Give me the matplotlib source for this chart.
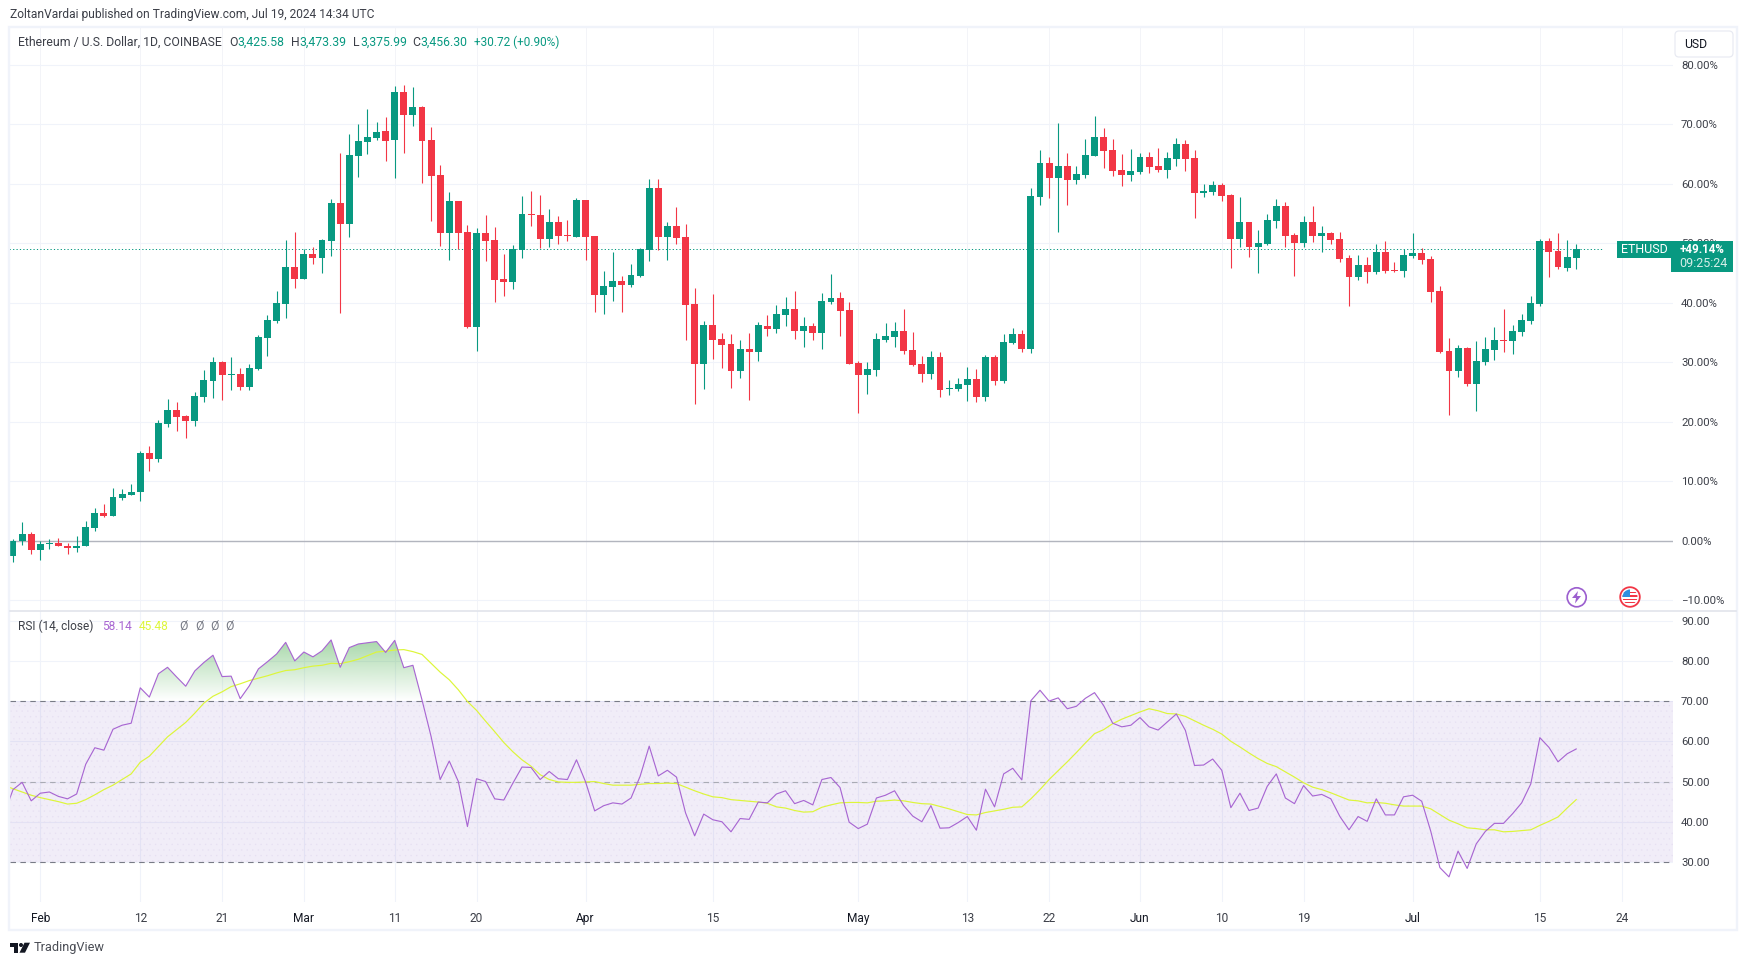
import numpy as np
import pandas as pd
import matplotlib
matplotlib.use("Agg")
import matplotlib.pyplot as plt
import matplotlib.dates as mdates
from matplotlib.patches import Rectangle, FancyBboxPatch, Circle, Polygon
from matplotlib.path import Path
from matplotlib.ticker import FuncFormatter

plt.rcParams['font.family'] = ['Roboto', 'DejaVu Sans']
plt.rcParams['hatch.linewidth'] = 0.2

# percent change candles, one per day from 2024-01-29
opens = [-2.58, -0.06, 1.23, -1.57, -0.56, -0.28, -0.78, -1.23, -0.78, 2.24,
         4.76, 4.26, 7.28, 7.79, 8.18, 14.85, 13.84, 19.72, 22.07, 21.06,
         20.22, 24.26, 26.95, 30.14, 27.95, 28.12, 25.94, 28.96, 34.17, 37.03,
         39.83, 46.05, 44.03, 48.23, 47.56, 50.42, 56.80, 53.28, 64.70, 67.06,
         67.73, 68.90, 67.39, 75.46, 71.59, 72.94, 67.39, 61.51, 51.76, 57.14,
         51.93, 35.97, 51.76, 50.59, 44.03, 43.53, 48.91, 54.96, 54.79, 50.75,
         53.61, 51.43, 51.09, 57.31, 51.26, 41.34, 42.69, 43.70, 43.02, 44.54,
         48.91, 59.33, 51.09, 52.94, 51.09, 39.83, 29.75, 36.30, 33.95, 33.11,
         28.57, 32.27, 31.76, 36.13, 35.63, 37.98, 38.99, 35.29, 36.13, 34.96,
         40.17, 40.84, 38.82, 29.91, 27.90, 28.74, 33.78, 34.28, 35.29, 32.10,
         29.75, 28.07, 30.92, 25.55, 25.55, 26.22, 27.23, 24.20, 30.92, 26.89,
         33.28, 34.79, 32.27, 57.81, 63.53, 61.01, 63.02, 60.67, 61.51, 64.70,
         67.90, 65.71, 62.35, 61.51, 62.01, 64.54, 63.02, 62.35, 64.20, 66.72,
         64.37, 58.48, 58.65, 59.83, 58.15, 50.75, 53.61, 49.41, 49.91, 53.78,
         56.30, 51.43, 50.08, 53.61, 51.26, 51.76, 50.75, 47.56, 44.37, 46.38,
         45.21, 48.57, 45.54, 45.38, 47.90, 48.40, 47.39, 42.02, 31.93, 28.57,
         32.44, 26.39, 30.08, 32.10, 33.78, 33.61, 35.12, 36.97, 39.83, 50.42,
         48.74, 45.88, 47.56]
closes = [0.06, 1.23, -1.57, -0.45, -0.28, -0.90, -1.23, -0.78, 2.41, 4.76,
          4.26, 7.45, 7.95, 8.29, 14.85, 13.84, 19.89, 22.07, 20.90, 20.22,
          24.42, 27.11, 30.14, 27.95, 28.12, 25.94, 29.13, 34.34, 37.20, 40.05,
          46.05, 44.03, 48.23, 47.56, 50.59, 56.80, 53.28, 64.87, 67.22, 67.89,
          68.74, 67.22, 75.46, 71.59, 72.94, 67.22, 61.34, 51.76, 57.14, 51.76,
          36.02, 51.76, 50.42, 43.86, 43.53, 49.07, 54.96, 54.79, 50.75, 53.61,
          51.26, 51.26, 57.31, 51.09, 41.34, 42.86, 43.70, 43.02, 44.70, 49.07,
          59.33, 51.09, 52.94, 50.92, 39.66, 29.75, 36.30, 33.78, 32.94, 28.57,
          32.27, 31.76, 36.30, 35.63, 38.15, 38.99, 35.29, 36.13, 34.96, 40.33,
          40.84, 38.65, 29.75, 27.90, 28.91, 33.95, 34.45, 35.29, 31.93, 29.58,
          28.07, 30.92, 25.38, 25.71, 26.39, 27.23, 24.20, 30.92, 26.89, 33.44,
          34.79, 32.27, 57.98, 63.53, 61.01, 63.02, 60.67, 61.68, 64.87, 67.90,
          65.54, 62.18, 61.51, 62.18, 64.54, 62.85, 62.35, 64.37, 66.72, 64.20,
          58.48, 58.82, 59.83, 57.98, 50.75, 53.61, 49.41, 50.08, 53.95, 56.30,
          51.26, 50.08, 53.61, 51.26, 51.76, 50.59, 47.39, 44.37, 46.38, 45.21,
          48.57, 45.38, 45.38, 48.07, 48.40, 47.23, 41.85, 31.76, 28.57, 32.44,
          26.39, 30.25, 32.27, 33.78, 33.61, 35.29, 37.14, 40.00, 50.42, 48.57,
          46.05, 47.73, 49.07]
highs = [0.39, 3.25, 1.57, -0.06, 0.39, 0.56, -0.28, 0.90, 3.42, 5.60,
         6.27, 8.96, 8.80, 9.64, 15.18, 16.02, 20.39, 23.92, 23.42, 21.23,
         25.10, 28.79, 30.98, 30.31, 30.98, 29.13, 29.80, 34.68, 38.04, 42.07,
         50.59, 51.93, 49.07, 49.41, 50.75, 57.48, 65.21, 68.40, 70.08, 72.60,
         70.42, 71.26, 76.47, 76.64, 76.30, 73.11, 69.58, 63.19, 58.65, 57.14,
         53.11, 52.60, 54.79, 52.77, 48.23, 49.75, 57.98, 58.82, 58.15, 55.80,
         54.62, 53.95, 57.65, 57.31, 51.26, 45.38, 48.57, 44.54, 46.55, 49.24,
         60.84, 60.84, 53.61, 56.13, 53.28, 42.52, 36.97, 41.51, 34.96, 34.79,
         33.78, 34.96, 36.81, 37.98, 39.66, 41.01, 42.02, 37.65, 36.64, 41.68,
         44.87, 41.85, 40.17, 30.25, 30.08, 34.96, 36.64, 36.81, 38.99, 35.12,
         31.09, 31.93, 31.76, 27.06, 27.39, 29.24, 28.91, 31.26, 31.26, 34.79,
         35.80, 35.46, 59.33, 65.71, 64.54, 70.25, 65.21, 63.02, 67.56, 71.43,
         69.41, 67.56, 65.04, 65.88, 65.21, 65.38, 66.05, 65.38, 67.73, 67.39,
         65.71, 60.00, 60.50, 60.17, 58.32, 57.81, 53.61, 52.27, 54.96, 57.48,
         56.97, 51.76, 54.62, 56.30, 52.94, 51.93, 51.93, 48.07, 48.07, 47.73,
         49.91, 50.42, 46.89, 49.07, 51.76, 49.24, 47.90, 42.86, 34.12, 32.94,
         32.60, 33.61, 34.28, 35.96, 38.99, 36.30, 38.15, 41.17, 50.75, 50.92,
         51.76, 50.59, 49.91]
lows = [-3.47, -0.73, -2.24, -3.25, -1.40, -0.90, -2.13, -1.90, -0.78, 1.62,
        4.09, 4.26, 6.83, 7.79, 6.78, 11.82, 13.22, 19.21, 18.54, 17.37,
        19.38, 23.42, 24.09, 23.75, 25.43, 25.43, 25.43, 28.79, 31.15, 36.69,
        37.48, 42.52, 44.03, 46.55, 45.04, 47.90, 38.32, 51.09, 61.17, 65.04,
        67.39, 63.86, 61.01, 65.21, 69.74, 60.17, 53.78, 49.58, 47.23, 49.07,
        35.80, 31.93, 47.06, 40.17, 41.17, 42.35, 47.56, 52.94, 49.24, 49.41,
        49.91, 50.42, 51.09, 47.23, 38.49, 38.15, 40.33, 38.49, 42.69, 44.37,
        47.06, 48.91, 47.23, 49.91, 33.78, 23.02, 25.55, 30.59, 29.07, 25.71,
        27.39, 23.70, 30.25, 34.45, 34.96, 36.13, 33.95, 32.60, 33.78, 32.27,
        39.83, 34.45, 29.75, 21.51, 24.70, 27.73, 33.44, 32.60, 31.43, 29.41,
        26.72, 27.23, 24.20, 24.54, 25.21, 23.53, 23.36, 23.53, 26.22, 26.55,
        33.11, 31.76, 31.60, 56.47, 57.65, 51.93, 56.47, 60.00, 61.01, 64.70,
        62.69, 61.34, 59.66, 60.50, 61.68, 61.85, 62.01, 61.01, 63.02, 62.18,
        54.28, 57.81, 58.15, 57.14, 45.88, 49.41, 47.73, 45.04, 49.75, 52.60,
        49.41, 44.54, 49.41, 50.25, 48.57, 49.91, 46.89, 39.49, 43.86, 43.36,
        44.87, 45.04, 45.21, 44.37, 47.56, 46.55, 40.17, 31.60, 21.18, 27.56,
        26.05, 21.85, 29.58, 30.42, 31.76, 31.43, 34.45, 36.47, 39.49, 44.37,
        45.71, 45.38, 45.71]

# RSI and its moving average, one per day from 2024-01-28
rsi_vals = [41.8, 48.0, 49.8, 45.2, 47.1, 47.4, 46.3, 45.7, 46.9, 54.3,
            58.4, 57.8, 63.0, 64.0, 64.5, 73.3, 71.0, 76.8, 78.4, 76.0,
            73.7, 77.5, 79.6, 81.4, 76.1, 76.2, 70.6, 73.8, 78.0, 79.8,
            81.7, 84.6, 80.0, 82.2, 81.0, 82.5, 85.2, 78.4, 83.3, 84.2,
            84.5, 84.8, 82.1, 85.1, 78.3, 78.9, 70.3, 61.2, 50.5, 55.1,
            50.0, 38.8, 50.7, 50.0, 45.7, 45.4, 49.6, 53.6, 53.5, 50.5,
            52.5, 50.7, 50.5, 55.4, 49.9, 42.7, 44.0, 44.7, 44.4, 45.9,
            51.3, 58.8, 51.4, 52.8, 51.1, 42.2, 36.5, 41.9, 40.5, 40.0,
            37.5, 40.8, 40.6, 44.9, 44.7, 46.9, 47.7, 44.5, 45.3, 44.2,
            50.5, 51.0, 48.5, 39.9, 38.3, 39.4, 45.9, 46.6, 47.7, 44.0,
            41.4, 40.0, 44.0, 38.4, 38.5, 39.8, 41.3, 37.9, 48.1, 43.7,
            51.9, 53.3, 50.4, 70.1, 72.7, 70.0, 70.8, 68.1, 68.7, 70.7,
            72.1, 68.9, 64.5, 63.6, 64.0, 65.9, 63.6, 62.8, 64.8, 66.8,
            62.7, 54.0, 54.1, 55.6, 52.8, 43.5, 47.1, 42.8, 43.4, 48.8,
            51.9, 45.9, 44.5, 49.0, 46.4, 46.8, 45.7, 41.3, 38.0, 41.3,
            40.1, 45.7, 41.7, 41.7, 46.2, 46.6, 45.1, 37.6, 28.6, 26.3,
            32.7, 28.4, 34.5, 37.6, 39.6, 39.6, 42.0, 44.7, 49.4, 60.9,
            58.5, 54.9, 56.9, 58.1]
rsi_ma = [49.1, 48.2, 47.4, 46.6, 46.0, 45.5, 45.0, 44.4, 44.6, 45.5,
          46.7, 48.0, 49.1, 50.5, 51.9, 54.8, 56.3, 58.7, 61.1, 62.9,
          64.7, 67.0, 69.5, 71.2, 72.3, 73.6, 74.3, 75.1, 75.7, 76.3,
          77.0, 77.6, 77.8, 78.3, 78.7, 78.9, 79.4, 79.3, 79.8, 80.4,
          81.3, 82.2, 82.4, 82.7, 82.8, 82.3, 81.6, 79.4, 77.2, 75.3,
          72.8, 69.9, 67.7, 65.0, 62.4, 59.7, 57.4, 55.4, 53.8, 51.7,
          50.5, 49.9, 49.8, 49.8, 49.9, 50.0, 49.5, 49.1, 49.1, 49.1,
          49.3, 49.5, 49.5, 49.6, 49.5, 48.6, 47.7, 46.9, 46.2, 46.0,
          45.5, 45.3, 45.1, 44.9, 44.6, 43.7, 43.4, 42.8, 42.4, 42.5,
          43.6, 44.2, 44.7, 44.8, 44.8, 44.7, 45.1, 45.2, 45.4, 45.2,
          44.8, 44.5, 44.4, 43.8, 43.2, 42.5, 41.8, 41.7, 42.3, 42.7,
          43.1, 43.6, 43.7, 45.7, 48.0, 50.5, 52.7, 54.9, 57.2, 59.6,
          61.9, 62.9, 64.4, 65.5, 66.4, 67.3, 68.1, 67.6, 66.9, 66.8,
          66.2, 65.1, 64.0, 63.0, 61.8, 60.0, 58.6, 57.1, 55.7, 54.5,
          53.7, 52.4, 51.1, 49.7, 48.6, 48.0, 47.2, 46.3, 45.4, 45.2,
          44.7, 44.8, 44.6, 44.2, 43.9, 43.9, 43.9, 43.2, 41.8, 40.4,
          39.5, 38.5, 38.3, 38.0, 38.0, 37.5, 37.6, 37.8, 38.0, 39.1,
          40.1, 41.2, 43.4, 45.5]

tick_dates = ['2024-02-01', '2024-02-12', '2024-02-21', '2024-03-01', '2024-03-11', '2024-03-20',
              '2024-04-01', '2024-04-15', '2024-05-01', '2024-05-13', '2024-05-22', '2024-06-01',
              '2024-06-10', '2024-06-19', '2024-07-01', '2024-07-15', '2024-07-24']
tick_labels = ['Feb', '12', '21', 'Mar', '11', '20', 'Apr', '15', 'May', '13', '22', 'Jun',
               '10', '19', 'Jul', '15', '24']
price_ticks = [80, 70, 60, 50, 40, 30, 20, 10, 0, -10]
rsi_ticks = [90, 80, 70, 60, 50, 40, 30]
last_pct = 49.14

GREEN = '#089981'
RED = '#F23645'
GRID = '#F0F3FA'
PURPLE = '#A866D2'
YELLOW = '#DDF63A'
TEXT = '#3C3F48'
W, H = 1747, 965
px = 0.72  # one pixel in points at dpi 100

fig = plt.figure(figsize=(W / 100, H / 100), dpi=100, facecolor='white')


def pane(top, bottom, left=10.3, right=1673):
    return fig.add_axes([left / W, 1 - bottom / H, (right - left) / W, (bottom - top) / H])


ax = pane(26, 610)
ax2 = pane(611, 902)

dates = mdates.date2num(pd.date_range('2024-01-29', periods=len(opens)))
rsi_dates = mdates.date2num(pd.date_range('2024-01-28', periods=len(rsi_vals)))
base = mdates.date2num(pd.Timestamp('2024-02-01'))
ticks = mdates.date2num(pd.to_datetime(tick_dates))
xlim = (base - 3.30, base + 179.65)

opens = np.array(opens)
closes = np.array(closes)
highs = np.array(highs)
lows = np.array(lows)
rsi_vals = np.array(rsi_vals)
rsi_ma = np.array(rsi_ma)

for a in (ax, ax2):
    a.set_xlim(*xlim)
    a.set_xticks(ticks)
    a.grid(True, color=GRID, lw=1.1 * px, zorder=0)
    a.set_axisbelow(True)
    a.yaxis.tick_right()
    a.tick_params(length=0, labelsize=8.2, labelcolor=TEXT, pad=5.8)
    for s in a.spines.values():
        s.set_visible(False)
ax.tick_params(labelbottom=False)
ax.xaxis.grid(True, color='#F3F4F8', lw=px)

# main pane
ax.set_ylim(-11.6, 86.55)
ax.set_yticks(price_ticks)
ax.yaxis.set_major_formatter(FuncFormatter(lambda v, p: f'{v:.2f}%'.replace('-', '\u2212')))
ax.axhline(0, color='#B2B5BE', lw=1.4 * px, zorder=1)
ax.plot([dates[0] - 4, base + 172], [last_pct, last_pct], color=GREEN, lw=px, ls=(0, (1.2, 2.2)), zorder=1)

colors = [GREEN if c >= o else RED for o, c in zip(opens, closes)]
ax.vlines(dates, lows, highs, colors=colors, lw=1.1 * px, zorder=3)
ax.bar(dates, np.abs(closes - opens), bottom=np.minimum(opens, closes), width=0.76, color=colors,
       linewidth=0, zorder=4)

# rsi pane
ax2.set_ylim(20.05, 92.4)
ax2.set_yticks(rsi_ticks)
ax2.yaxis.set_major_formatter(FuncFormatter(lambda v, p: f'{v:.2f}'))
ax2.set_xticklabels(tick_labels)
ax2.tick_params(axis='x', pad=7.5, labelsize=8.6)
for lab, txt in zip(ax2.get_xticklabels(), tick_labels):
    lab.set_color('#131722' if txt.isalpha() else TEXT)

ax2.axhspan(30, 70, facecolor='#7E57C2', alpha=0.105, lw=0, zorder=1)
ax2.axhspan(30, 70, facecolor='none', edgecolor='#E6DFF2', hatch='...', lw=0, zorder=1)
ax2.axhline(70, color='#787B86', lw=1.1 * px, ls=(0, (5, 4)), zorder=2)
ax2.axhline(50, color='#A9ABB4', lw=1.1 * px, ls=(0, (5, 4)), zorder=2)
ax2.axhline(30, color='#787B86', lw=1.1 * px, ls=(0, (5, 4)), zorder=2)

# green fade above 70, drawn as an image clipped to the area under the line
over = ax2.fill_between(rsi_dates, 70, rsi_vals, where=rsi_vals > 70, interpolate=True, facecolor='none', lw=0)
grad = np.zeros((256, 1, 4))
grad[:, :, 0] = 76 / 255
grad[:, :, 1] = 175 / 255
grad[:, :, 2] = 80 / 255
grad[:, :, 3] = np.linspace(0.5, 0, 256).reshape(-1, 1)
im = ax2.imshow(grad, extent=[rsi_dates[0], rsi_dates[-1], 70, 85.5], aspect='auto', zorder=2, origin='upper')
im.set_clip_path(Path.make_compound_path(*over.get_paths()), ax2.transData)
ax2.set_xlim(*xlim)
ax2.set_ylim(20.05, 92.4)

ax2.plot(rsi_dates, rsi_ma, color=YELLOW, lw=1.2 * px, zorder=3)
ax2.plot(rsi_dates, rsi_vals, color=PURPLE, lw=1.15 * px, zorder=4)

# overlay in pixel coordinates for frame, header and labels
ov = fig.add_axes([0, 0, 1, 1], facecolor='none', zorder=10)
ov.set_xlim(0, W)
ov.set_ylim(H, 0)
ov.axis('off')

ov.add_patch(Rectangle((9.5, 26.5), 1727.5, 903.5, fill=False, ec='#F0F3FA', lw=2.4 * px))
ov.plot([10, 1736], [610.5, 610.5], color='#E0E3EB', lw=1.6 * px)


def label(x, y, s, color=TEXT, size=8.8, **kw):
    ov.text(x, y, s, color=color, fontsize=size, va='center', ha=kw.pop('ha', 'left'), **kw)


label(10.3, 14.5, 'ZoltanVardai published on TradingView.com, Jul 19, 2024 14:34 UTC', size=8.62)
label(18, 42, 'Ethereum / U.S. Dollar, 1D, COINBASE')
for x, s in [(229, 'O'), (291, 'H'), (353, 'L'), (412.5, 'C')]:
    label(x, 42, s)
for x, s in [(237, '3,425.58'), (299, '3,473.39'), (360, '3,375.99'), (420, '3,456.30')]:
    label(x, 42, s, color=GREEN)
label(474, 42, '+30.72 (+0.90%)', color=GREEN, size=8.5)

label(18, 626, 'RSI (14, close)', size=8.6)
label(102, 626, '58.14', color=PURPLE, size=8.6)
label(138.5, 626, '45.48', color=YELLOW, size=8.6)
for x in [179, 195, 210, 225]:
    label(x, 626, '\u00d8', color='#787B86')

# USD button
ov.add_patch(FancyBboxPatch((1677, 33), 54, 22, boxstyle='round,pad=2,rounding_size=4', fc='white', ec='#E8EAF2', lw=1.2 * px))
label(1684, 44, 'USD', color='#131722')

# last price labels
ov.add_patch(Rectangle((1617.3, 240.7), 53.4, 17.6, fc=GREEN, lw=0))
ov.add_patch(Rectangle((1671, 240.7), 61.7, 31.6, fc=GREEN, lw=0))
label(1644, 249.5, 'ETHUSD', color='white', ha='center', size=9)
label(1702, 249.3, '+49.14%', color='white', ha='center', fontweight='bold', size=8.4)
label(1703.5, 263.3, '09:25:24', color='#D5EEE8', ha='center', size=9)

# event icons
ov.add_patch(Circle((1576.7, 597.3), 9.5, fc='white', ec='#9C5FCF', lw=1.7 * px))
ov.add_patch(Polygon([(1578, 591), (1572, 598), (1576, 598), (1575, 603.5), (1581, 596), (1577, 596)], fc='#9C5FCF', lw=0))

flag_clip = Circle((1630, 597), 7.5, transform=ov.transData)
ov.add_patch(Circle((1630, 597), 9.8, fc='white', ec=RED, lw=1.8 * px))
for y0 in [591.5, 595, 598.5, 601.5]:
    stripe = Rectangle((1622, y0), 16, 1.7, fc=RED, lw=0)
    ov.add_patch(stripe)
    stripe.set_clip_path(flag_clip)
canton = Rectangle((1622, 589), 8, 8, fc='#2F8FE0', lw=0)
ov.add_patch(canton)
canton.set_clip_path(flag_clip)

# tradingview mark
ov.add_patch(Polygon([(10, 942.7), (18.5, 942.7), (18.5, 952.7), (14, 952.7), (14, 946.5), (10, 946.5)], fc='#131722', lw=0))
ov.add_patch(Circle((21, 945), 2, fc='#131722', lw=0))
ov.add_patch(Polygon([(24.5, 942.7), (30, 942.7), (25, 952.7), (19.5, 952.7)], fc='#131722', lw=0))
label(33.5, 948, 'TradingView', color='#4A4D55', size=9.2)

fig.savefig('out.png', dpi=100)
